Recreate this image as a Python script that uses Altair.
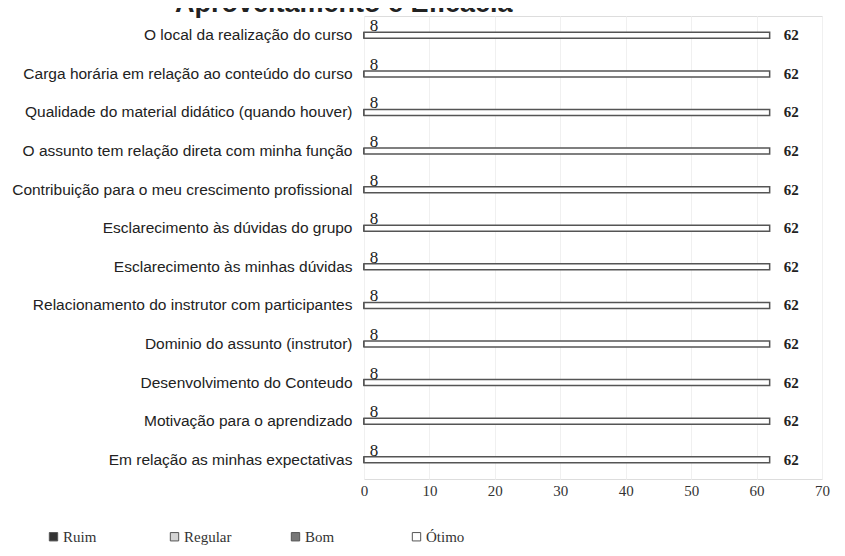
import altair as alt
import pandas as pd

categories = [
    "O local da realização do curso",
    "Carga horária em relação ao conteúdo do curso",
    "Qualidade do material didático (quando houver)",
    "O assunto tem relação direta com minha função",
    "Contribuição para o meu crescimento profissional",
    "Esclarecimento às dúvidas do grupo",
    "Esclarecimento às minhas dúvidas",
    "Relacionamento do instrutor com participantes",
    "Dominio do assunto (instrutor)",
    "Desenvolvimento do Conteudo",
    "Motivação para o aprendizado",
    "Em relação as minhas expectativas",
]
series = ["Ruim", "Regular", "Bom", "Ótimo"]
ruim = [0] * 12
regular = [0] * 12
bom = [0] * 12
otimo = [62] * 12
# small label printed at the start of every row (as it reads in the picture)
rotulo_inicio = ["8"] * 12
x_ticks = [0, 10, 20, 30, 40, 50, 60, 70]
title_text = "Aproveitamento e Eficácia"

rows = []
for s, vals in zip(series, [ruim, regular, bom, otimo]):
    for c, v in zip(categories, vals):
        rows.append({"cat": c, "serie": s, "valor": v})
df = pd.DataFrame(rows)

small = pd.DataFrame({"cat": categories, "valor": bom, "rotulo": rotulo_inicio})

yenc = alt.Y("cat:N", sort=categories, title=None,
             scale=alt.Scale(paddingInner=0, paddingOuter=0),
             axis=alt.Axis(labelFont="Liberation Sans", labelFontSize=15.5,
                           labelColor="#222", domain=False, ticks=False,
                           labelPadding=12, labelLimit=400))
xenc = alt.X("valor:Q", title=None,
             scale=alt.Scale(domain=[0, 70], nice=False),
             axis=alt.Axis(values=x_ticks, labelFont="Liberation Serif",
                           labelFontSize=15, labelColor="#333", domain=False,
                           ticks=False, labelPadding=4, gridColor="#f0f0f0",
                           labelFlush=False))

color = alt.Color("serie:N", sort=series, title=None,
                  scale=alt.Scale(domain=series,
                                  range=["#333333", "#d4d4d4", "#777777", "#ffffff"]),
                  legend=alt.Legend(orient="none", legendX=-318, legendY=513,
                                    direction="horizontal", columns=4,
                                    gridAlign="all", columnPadding=56,
                                    symbolType="square", symbolSize=70,
                                    symbolStrokeColor="#555", symbolStrokeWidth=1,
                                    labelFont="Liberation Serif", labelFontSize=15,
                                    labelColor="#333", labelOffset=2))

base = alt.Chart(df)

bars = base.mark_bar(height=6, stroke="#555", strokeWidth=1.5).encode(
    y=yenc, x=xenc, fill=color)

otimo_lbl = base.transform_filter(alt.datum.serie == "Ótimo").mark_text(
    align="left", dx=14, font="Liberation Serif", fontSize=15,
    fontWeight="bold", color="#222").encode(
    y=alt.Y("cat:N", sort=categories), x="valor:Q", text="valor:Q")

start_lbl = alt.Chart(small).mark_text(
    align="center", baseline="alphabetic", dx=10, dy=-4,
    font="Liberation Serif", fontSize=17, color="#222").encode(
    y=alt.Y("cat:N", sort=categories), x="valor:Q", text="rotulo:N")

title = alt.Chart(pd.DataFrame({"t": [title_text]})).mark_text(
    align="left", baseline="alphabetic", font="Liberation Sans", fontSize=27,
    fontWeight="bold", color="#222").encode(
    text="t:N", x=alt.value(-189), y=alt.value(-4))

chart = alt.layer(bars, otimo_lbl, start_lbl, title).properties(
    width=458, height=463,
    autosize=alt.AutoSizeParams(type="none"),
    padding={"left": 356, "top": 8, "right": 15, "bottom": 69},
).configure_view(stroke=None).configure(background="white")

chart.save("out.html", embed_options={"renderer": "svg", "actions": False})
